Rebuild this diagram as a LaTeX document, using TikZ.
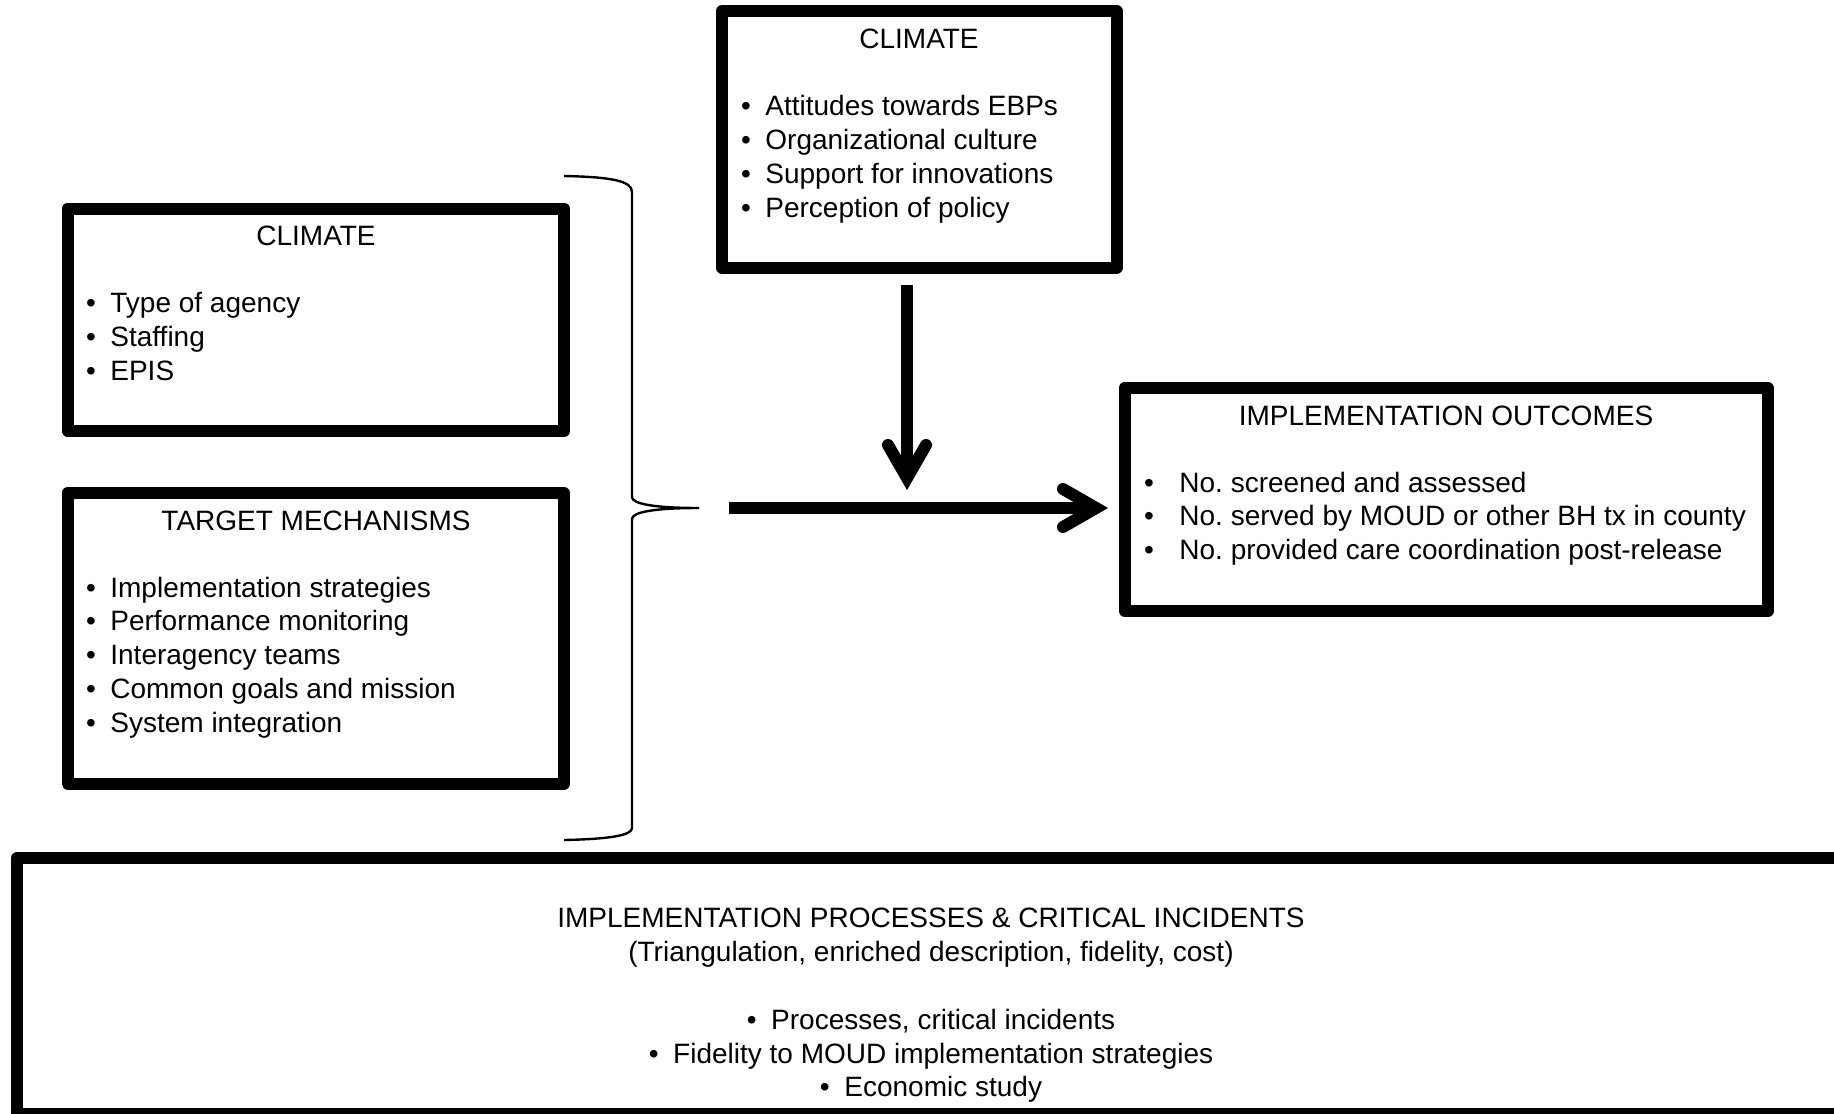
\documentclass[tikz,border=0pt]{standalone}
\usepackage{fontspec}
\setmainfont{Liberation Sans}
\usetikzlibrary{calc}
\frenchspacing

\tikzset{
  box/.style={draw, line width=6pt, line join=round, rectangle, inner sep=0pt},
  txt/.style={font=\fontsize{14}{17}\selectfont, inner sep=0pt, outer sep=0pt},
  title/.style={txt, anchor=base},
  item/.style={txt, anchor=base west},
  shaft/.style={line width=6pt, line cap=butt},
  barb/.style={line width=6pt, line cap=round, line join=miter},
  brace/.style={line width=1.2pt}
}
\newcommand{\bulgap}[1]{\textbullet\hspace{#1}}

\begin{document}
\begin{tikzpicture}[x=0.5pt,y=-0.5pt]
  \useasboundingbox (0,0) rectangle (1834,1113);
  \fill[white] (0,0) rectangle (1834,1113);
  \clip (0,0) rectangle (1834,1113);

  % boxes
  \node[box, minimum width=197.25pt, minimum height=128.25pt] (topclim) at (919.25,139.25) {};
  \node[box, minimum width=248.25pt, minimum height=111.25pt] (leftclim) at (315.75,319.75) {};
  \node[box, minimum width=248.25pt, minimum height=145.25pt] (target) at (315.75,638.25) {};
  \node[box, minimum width=321.75pt, minimum height=111.5pt] (outcomes) at (1446.25,499.5) {};
  \node[box, minimum width=921.5pt, minimum height=128pt] (process) at (938.5,986) {};

  % top climate box
  \node[title] (topclim-t) at (919,49) {CLIMATE};
  \foreach \t [count=\i] in {Attitudes towards EBPs, Organizational culture, Support for innovations, Perception of policy}
    \node[item] (topclim-\i) at (741,{115+34*(\i-1)}) {\bulgap{7.3pt}\t};

  % left climate box
  \node[title] (leftclim-t) at (316,245) {CLIMATE};
  \foreach \t [count=\i] in {Type of agency, Staffing, EPIS}
    \node[item] (leftclim-\i) at (86,{312+34*(\i-1)}) {\bulgap{7.3pt}\t};

  % target mechanisms box
  \node[title] (target-t) at (316,530) {TARGET MECHANISMS};
  \foreach \t [count=\i] in {Implementation strategies, Performance monitoring, Interagency teams, Common goals and mission, System integration}
    \node[item] (target-\i) at (86,{597+33.8*(\i-1)}) {\bulgap{7.3pt}\t};

  % implementation outcomes box
  \node[title] (outcomes-t) at (1446,425) {IMPLEMENTATION OUTCOMES};
  \foreach \t [count=\i] in {No. screened and assessed, No. served by MOUD or other BH tx in county, No. provided care coordination post-release}
    \node[item] (outcomes-\i) at (1144,{492+33.5*(\i-1)}) {\bulgap{12.8pt}\t};

  % processes box
  \node[title] (process-t1) at (931,927) {IMPLEMENTATION PROCESSES \& CRITICAL INCIDENTS};
  \node[title] (process-t2) at (931,961) {(Triangulation, enriched description, fidelity, cost)};
  \node[title] (process-1) at (931,1029) {\bulgap{7.3pt}Processes, critical incidents};
  \node[title] (process-2) at (931,1063) {\bulgap{7.3pt}Fidelity to MOUD implementation strategies};
  \node[title] (process-3) at (931,1096) {\bulgap{7.3pt}Economic study};

  % brace grouping the two left boxes
  \coordinate (bracetip) at (699,508);
  \draw[brace] (564,176) .. controls (612,177) and (632,181) .. (632,192)
    -- (632,497) .. controls (632,504) and (655,508) .. (bracetip)
    .. controls (655,508) and (632,512) .. (632,519)
    -- (632,828) .. controls (632,835) and (612,839) .. (564,840);

  % main flow arrow
  \coordinate (flowstart) at (729,508);
  \coordinate (flowtip) at (1096,508);
  \draw[shaft] (flowstart) -- (flowtip);
  \draw[barb] ($(flowtip)+(-33,-19)$) -- (flowtip) -- ($(flowtip)+(-33,19)$);

  % moderating arrow from the top climate box
  \coordinate (modstart) at (907,285);
  \coordinate (modtip) at (907,478);
  \draw[shaft] (modstart) -- (modtip);
  \draw[barb] ($(modtip)+(-19,-33)$) -- (modtip) -- ($(modtip)+(19,-33)$);
\end{tikzpicture}
\end{document}
